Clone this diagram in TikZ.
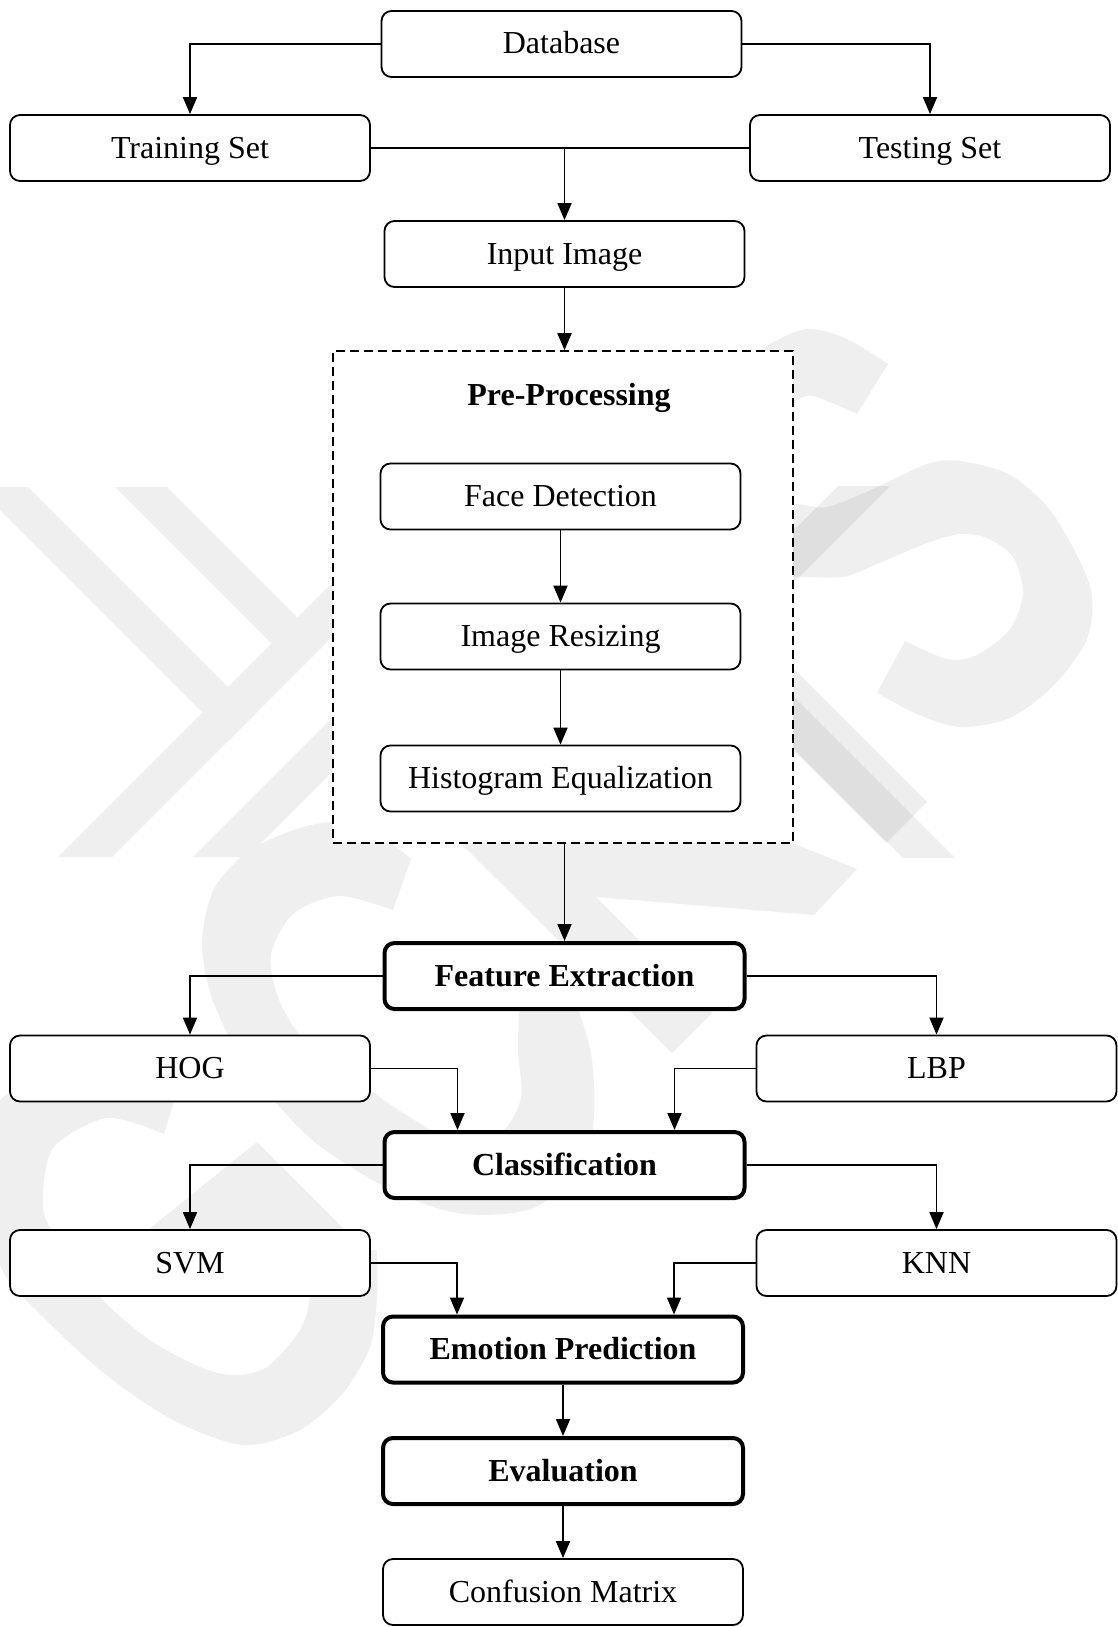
\documentclass[tikz,border=0pt]{standalone}
\usepackage{fontspec}
\setmainfont{Liberation Serif}
\usetikzlibrary{arrows.meta}
\definecolor{wm}{HTML}{EFEFEF}
\begin{document}
\begin{tikzpicture}[x=1pt,y=-1pt,
  label text/.style={font=\fontsize{32}{38}\selectfont, text height=26pt, text depth=6pt},
  box/.style={draw, fill=white, rounded corners=10pt, line width=1.8pt,
    minimum width=360pt, minimum height=66pt, inner sep=0pt, label text},
  keybox/.style={box, line width=4pt, font=\fontsize{32}{38}\selectfont\bfseries},
  link/.style={line width=1.8pt, -{Triangle[length=17pt,width=14pt]}},
  wire/.style={line width=1.8pt},
  emblem/.style={fill=wm},
  emblemover/.style={fill=black, fill opacity=0.065}]
\useasboundingbox (0,0) rectangle (1118,1627);

% ---- background emblem ----
% twin chevrons on the left
\fill[emblem] (0,487) -- (28,487) -- (255,714) -- (229.5,739.5) -- (0,510) -- cycle;
\fill[emblem] (58,857) -- (355,560) -- (409,560) -- (112,857) -- cycle;
\fill[emblem] (115,487) -- (167,487) -- (297.5,617.5) -- (271.5,643.5) -- cycle;
\fill[emblem] (193,857) -- (350,700) -- (404,700) -- (247,857) -- cycle;
% upper hook on the right
\fill[emblem] plot[smooth] coordinates {(740,372) (767,346) (807,329) (847,339) (888,364)}
  -- plot[smooth] coordinates {(857,414) (813,396) (793,402) (760,420)} -- cycle;
% large curl on the right
\fill[emblem] plot[smooth] coordinates {(760,512) (793,504) (827,507) (873,489) (927,464) (960,461)
  (1010,475) (1053,514) (1090,586) (1087,639) (1053,686) (1010,718) (960,727) (917,714) (877,693)}
  -- plot[smooth] coordinates {(905,641) (947,659) (977,655) (1010,629) (1023,593) (1013,557)
  (987,538) (960,534) (927,543) (877,564) (843,577) (793,577) (760,580)} -- cycle;
\fill[emblemover] (838,486) -- (890,486) -- (756,620) -- (704,620) -- cycle;
% diagonal bars right of the frame
\fill[emblem] (747,650) -- (955,858) -- (903,858) -- (695,650) -- cycle;
\fill[emblemover] (725,600) -- (927,802) -- (886,843) -- (643,600) -- cycle;
% arms below the frame
\fill[emblem] (437,820) -- (519,820) -- (712,1013) -- (672,1053) -- cycle;
\fill[emblem] (540,830) -- (760,830) -- (857,869) -- (814,915) -- (596,897) -- (560,890) -- cycle;
% large S
\fill[emblem] plot[smooth] coordinates {(411,859) (380,835) (340,822) (300,828) (250,850) (214,889)
  (202,942) (211,995) (236,1049) (279,1106) (321,1147) (393,1191) (464,1214) (540,1205)
  (590,1140) (592,1060) (575,1000)}
  -- plot[smooth] coordinates {(520,990) (518,1049) (521,1098) (500,1134) (457,1142) (411,1118)
  (357,1081) (307,1044) (279,1000) (271,955) (293,914) (339,896) (393,910)} -- cycle;
% open ring at the lower left
\fill[emblem] plot[smooth] coordinates {(175,1098) (120,1077) (60,1078) (0,1100) (-30,1180) (0,1265)
  (23,1297) (100,1370) (173,1420) (243,1445) (300,1430) (343,1393) (370,1347) (377,1297) (377,1250)}
  -- plot[smooth] coordinates {(312,1250) (310,1297) (300,1330) (267,1367) (233,1375) (200,1367)
  (150,1340) (100,1297) (50,1228) (43,1195) (54,1147) (107,1118) (164,1134)} -- cycle;
\fill[emblem] (257,1142) -- (365,1250) -- (123,1250) -- cycle;

% ---- dashed pre-processing frame ----
\node[draw, fill=white, dash pattern=on 9pt off 5pt, line width=1.6pt,
  minimum width=460pt, minimum height=492pt, inner sep=0pt] (pre) at (563,597) {};
\node[label text, font=\fontsize{32}{38}\selectfont\bfseries, inner sep=0pt] (pretitle) at (569,395) {Pre-Processing};

% ---- boxes ----
\node[box] (db)    at (561.5,44)  {Database};
\node[box] (train) at (190,148)   {Training Set};
\node[box] (test)  at (930,148)   {Testing Set};
\node[box] (input) at (564.5,254) {Input Image};
\node[box] (face)  at (560.5,496.5) {Face Detection};
\node[box] (resize) at (560.5,636.5) {Image Resizing};
\node[box] (hist)  at (560.5,778.5) {Histogram Equalization};
\node[keybox] (feat) at (564.5,976) {Feature Extraction};
\node[box] (hog)   at (190,1068.5) {HOG};
\node[box] (lbp)   at (936.5,1068.5) {LBP};
\node[keybox] (cls) at (564.5,1165) {Classification};
\node[box] (svm)   at (190,1263) {SVM};
\node[box] (knn)   at (936.5,1263) {KNN};
\node[keybox] (emo) at (563,1349.5) {Emotion Prediction};
\node[keybox] (eval) at (563,1471) {Evaluation};
\node[box] (conf)  at (563,1592) {Confusion Matrix};

% database split
\draw[link] (db.west) -| (train.north);
\draw[link] (db.east) -| (test.north);

% both sets feed the input image
\draw[wire] (train.east) -- (test.west);
\coordinate (merge) at (input.north |- train.east);
\draw[link] (merge) -- (input.north);
\draw[link] (input.south) -- (pre.north -| input.south);

% pre-processing chain
\draw[link] (face) -- (resize);
\draw[link] (resize) -- (hist);
\draw[link] (pre.south -| feat.north) -- (feat.north);

% feature extraction
\draw[link] (feat.west) -| (hog.north);
\draw[link] (feat.east) -| (lbp.north);
\draw[link] (hog.east) -| ([xshift=-107pt]cls.north);
\draw[link] (lbp.west) -| ([xshift=110pt]cls.north);

% classification
\draw[link] (cls.west) -| (svm.north);
\draw[link] (cls.east) -| (knn.north);
\draw[link] (svm.east) -| ([xshift=-106pt]emo.north);
\draw[link] (knn.west) -| ([xshift=111pt]emo.north);

% evaluation
\draw[link] (emo) -- (eval);
\draw[link] (eval) -- (conf);
\end{tikzpicture}
\end{document}
